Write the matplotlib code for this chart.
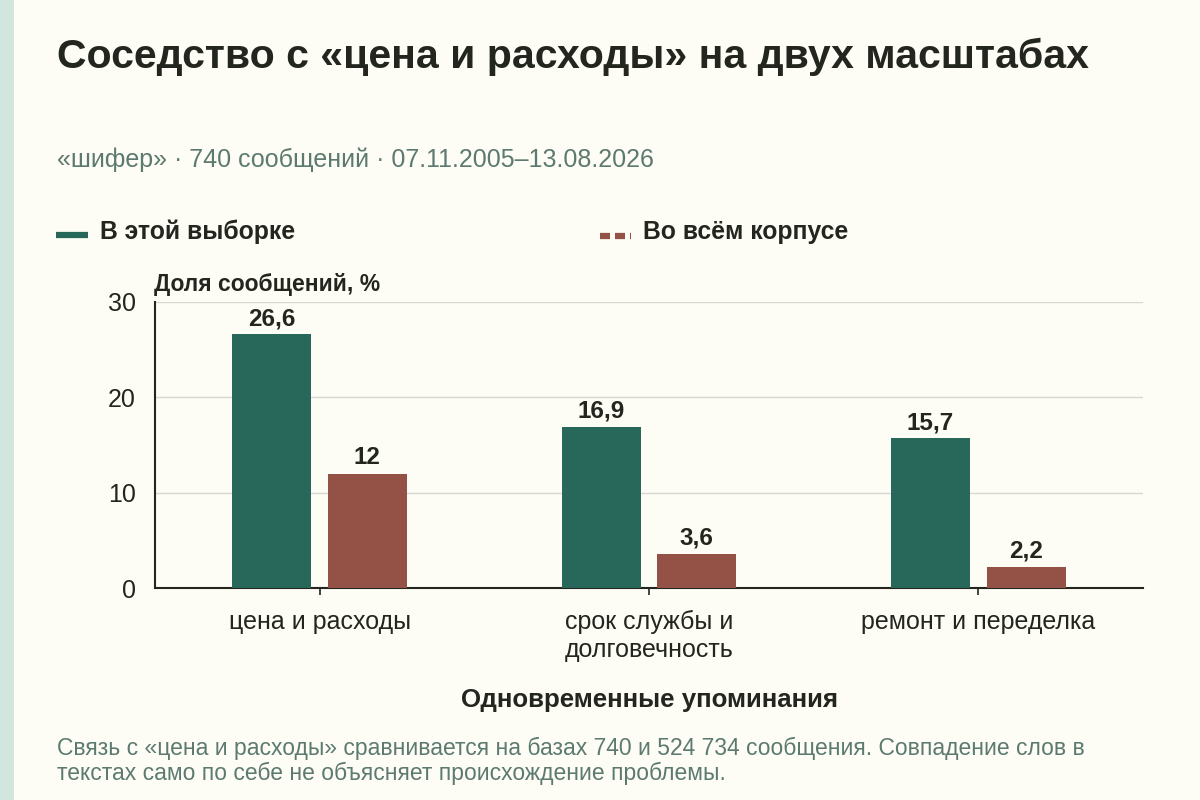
import numpy as np
import matplotlib.pyplot as plt
from matplotlib.patches import Rectangle
from matplotlib.lines import Line2D

plt.rcParams['font.family'] = ['Liberation Sans', 'DejaVu Sans']

# ── данные ──
categories = ['цена и расходы', 'срок службы и\nдолговечность', 'ремонт и переделка']
sample_vals = [26.6, 16.9, 15.7]
corpus_vals = [12.0, 3.6, 2.2]
sample_lbls = ['26,6', '16,9', '15,7']
corpus_lbls = ['12', '3,6', '2,2']
yticks = [0, 10, 20, 30]

BG = '#fdfcf5'
GREEN = '#27685a'
RED = '#945146'
DARK = '#23251f'
MUTED = '#5c7a70'

fig = plt.figure(figsize=(12, 8), dpi=100, facecolor=BG)

# полоса слева
fig.patches.append(Rectangle((0, 0), 14 / 1200, 1, transform=fig.transFigure,
                             facecolor='#d3e5df', edgecolor='none', zorder=0))

fig.text(57 / 1200, 1 - 57 / 800, 'Соседство с «цена и расходы» на двух масштабах',
         fontsize=29.5, fontweight='bold', color=DARK, va='center', ha='left')
fig.text(57 / 1200, 1 - 160 / 800, '«шифер» · 740 сообщений · 07.11.2005–13.08.2026',
         fontsize=18, color=MUTED, va='center', ha='left')

# легенда
fig.lines.append(Line2D([56 / 1200, 88 / 1200], [1 - 235 / 800] * 2, transform=fig.transFigure,
                        color=GREEN, lw=4.5, solid_capstyle='butt'))
fig.text(100 / 1200, 1 - 232 / 800, 'В этой выборке', fontsize=17.8, fontweight='bold',
         color=DARK, va='center', ha='left')
fig.lines.append(Line2D([600 / 1200, 631 / 1200], [1 - 236 / 800] * 2, transform=fig.transFigure,
                        color=RED, lw=4.5, dashes=(1.6, 0.8), solid_capstyle='butt'))
fig.text(643 / 1200, 1 - 232 / 800, 'Во всём корпусе', fontsize=17.8, fontweight='bold',
         color=DARK, va='center', ha='left')

ax = fig.add_axes([155 / 1200, 1 - 588 / 800, 988 / 1200, 286 / 800])
ax.set_facecolor(BG)

x = np.arange(len(categories))
w = 0.24
off = 0.145
b1 = ax.bar(x - off, sample_vals, w, color=GREEN, zorder=3)
b2 = ax.bar(x + off, corpus_vals, w, color=RED, zorder=3)

for rect, lbl in zip(b1, sample_lbls):
    ax.annotate(lbl, (rect.get_x() + rect.get_width() / 2, rect.get_height()),
                xytext=(0, 3), textcoords='offset points', ha='center', va='bottom',
                fontsize=17.5, fontweight='bold', color=DARK)
for rect, lbl in zip(b2, corpus_lbls):
    ax.annotate(lbl, (rect.get_x() + rect.get_width() / 2, rect.get_height()),
                xytext=(0, 3), textcoords='offset points', ha='center', va='bottom',
                fontsize=17.5, fontweight='bold', color=DARK)

ax.set_xlim(-0.5, 2.5)
ax.set_ylim(0, 30)
ax.set_yticks(yticks)
ax.set_yticklabels([str(t) for t in yticks], fontsize=18, color=DARK)
ax.set_xticks(x)
ax.set_xticklabels(categories, fontsize=18, color=DARK, linespacing=1.2, va='top')
ax.tick_params(axis='y', length=0, pad=14)
ax.tick_params(axis='x', length=5, width=1.2, color=DARK, pad=11)
ax.grid(axis='y', color='#d8d8d2', lw=1, zorder=0)
for s in ['top', 'right']:
    ax.spines[s].set_visible(False)
ax.spines['left'].set_color(DARK)
ax.spines['bottom'].set_color(DARK)
ax.spines['left'].set_linewidth(1.5)
ax.spines['bottom'].set_linewidth(1.5)

fig.text(154 / 1200, 1 - 284 / 800, 'Доля сообщений, %', fontsize=16.5, fontweight='bold',
         color=DARK, va='center', ha='left')
fig.text(649 / 1200, 1 - 700 / 800, 'Одновременные упоминания', fontsize=18.6,
         fontweight='bold', color=DARK, va='center', ha='center')

fig.text(57 / 1200, 1 - 748 / 800,
         'Связь с «цена и расходы» сравнивается на базах 740 и 524 734 сообщения. Совпадение слов в',
         fontsize=16.5, color=MUTED, va='center', ha='left')
fig.text(57 / 1200, 1 - 773 / 800, 'текстах само по себе не объясняет происхождение проблемы.',
         fontsize=16.5, color=MUTED, va='center', ha='left')

fig.savefig('out.png', dpi=100, facecolor=BG)
